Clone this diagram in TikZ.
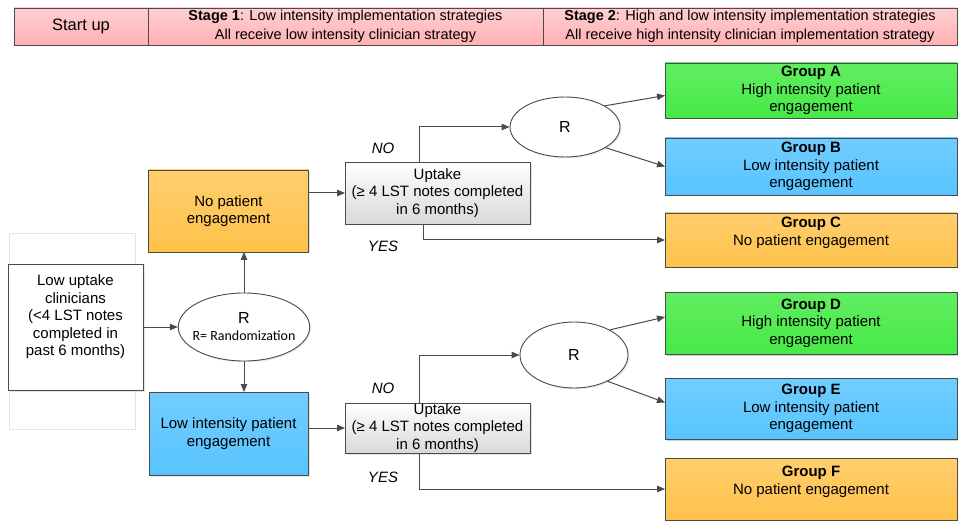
\documentclass[tikz,border=0pt]{standalone}
\usepackage{fontspec}
\setmainfont{Liberation Sans}
\newfontfamily\randfont{Carlito}
\usetikzlibrary{arrows.meta,positioning,calc,shapes.geometric,shadows}

\definecolor{hdrpink}{HTML}{FFB0B4}
\definecolor{grpgreen}{HTML}{46EA46}
\definecolor{grpblue}{HTML}{58C4FF}
\definecolor{grporange}{HTML}{FFC24A}
\definecolor{edgegray}{HTML}{4A4A4A}

\begin{document}
\begin{tikzpicture}[
  x=1pt, y=-1pt,
  node distance=20pt,
  box/.style={draw=edgegray, line width=0.9pt, align=center, inner sep=2pt, outer sep=0pt,
    font=\fontsize{15}{17.5}\selectfont,
    drop shadow={shadow xshift=1.5pt, shadow yshift=-1.5pt, opacity=0.2}},
  hdr/.style={box, top color=hdrpink!60, bottom color=hdrpink, minimum height=37pt,
    font=\fontsize{14.5}{18.5}\selectfont},
  orangebox/.style={box, top color=grporange!80, bottom color=grporange},
  bluebox/.style={box, top color=grpblue!85, bottom color=grpblue},
  greenbox/.style={box, top color=grpgreen!85, bottom color=grpgreen},
  uptakebox/.style={box, top color=white, bottom color=gray!30, minimum width=185pt},
  grp/.style={box, minimum width=292pt},
  oval/.style={ellipse, draw=edgegray, line width=0.9pt, fill=white, inner sep=0pt, align=center,
    font=\fontsize{16}{17}\selectfont,
    drop shadow={shadow xshift=1.5pt, shadow yshift=-1.5pt, opacity=0.15}},
  lbl/.style={font=\fontsize{15}{17}\selectfont\itshape},
  arr/.style={-{Triangle[length=8pt,width=6.5pt]}, draw=edgegray, line width=1pt}
]
  \useasboundingbox (0,0) rectangle (958,521);

  % stage header
  \node[hdr, minimum width=134pt, font=\fontsize{16.5}{18.5}\selectfont] (startup) at (81,26.5) {Start up};
  \node[hdr, minimum width=395pt, right=0pt of startup] (stageone)
    {\textbf{Stage 1}: Low intensity implementation strategies\\All receive low intensity clinician strategy};
  \node[hdr, minimum width=414pt, right=0pt of stageone] (stagetwo)
    {\textbf{Stage 2}: High and low intensity implementation strategies\\All receive high intensity clinician implementation strategy};

  % faint frame behind the start box
  \draw[gray!20, line width=0.6pt] (9,233) rectangle (135,429);

  % randomization of clinicians
  \node[box, fill=white, minimum width=135pt, minimum height=126pt] (lowup) at (75.5,327)
    {Low uptake\\clinicians\\(<4 LST notes\\completed in\\past 6 months)\\[6pt]};
  \node[oval, inner xsep=-5pt, minimum width=128pt, minimum height=68pt] (rand) at (244,327)
    {R\\[0pt]{\randfont\fontsize{14}{15}\selectfont R= Randomization}};
  \node[orangebox, minimum width=160pt, minimum height=82pt] (nopat) at (228.5,211)
    {No patient\\engagement};
  \node[bluebox, minimum width=159pt, minimum height=83pt] (lowpat) at (228.5,433.5)
    {Low intensity patient\\engagement};

  % uptake checks
  \node[uptakebox, minimum height=62pt] (upone) at (437.5,193)
    {Uptake\\(\char"2265\ 4 LST notes completed\\in 6 months)};
  \node[uptakebox, inner ysep=0pt, minimum height=50pt] (uptwo) at (437.5,428)
    {Uptake\\(\char"2265\ 4 LST notes completed\\in 6 months)};
  \node[oval, minimum width=110pt, minimum height=60pt] (randA) at (565,127) {R};
  \node[oval, minimum width=108pt, minimum height=66pt] (randB) at (574,355) {R};

  % stage 2 groups
  \node[greenbox, grp, minimum height=55pt] (grpA) at (811,90.5)
    {\textbf{Group A}\\High intensity patient\\engagement};
  \node[bluebox, grp, minimum height=57pt, below=20pt of grpA] (grpB)
    {\textbf{Group B}\\Low intensity patient\\engagement};
  \node[orangebox, grp, minimum height=54pt, below=18pt of grpB] (grpC)
    {\textbf{Group C}\\No patient engagement\\~};
  \node[greenbox, grp, minimum height=62pt, below=25pt of grpC] (grpD)
    {\textbf{Group D}\\High intensity patient\\engagement};
  \node[bluebox, grp, minimum height=61pt, below=24pt of grpD] (grpE)
    {\textbf{Group E}\\Low intensity patient\\engagement};
  \node[orangebox, grp, minimum height=62pt, below=19pt of grpE] (grpF)
    {\textbf{Group F}\\No patient engagement\\~};

  \node[lbl] (noone) at (383,148) {NO};
  \node[lbl] (yesone) at (383,246) {YES};
  \node[lbl] (notwo) at (383,388) {NO};
  \node[lbl] (yestwo) at (383,477) {YES};

  \draw[arr] (lowup) -- (rand);
  \draw[arr] (rand.north) -- (rand.north |- nopat.south);
  \draw[arr] (rand.south) -- (rand.south |- lowpat.north);
  \draw[arr] (nopat.east |- upone.west) -- (upone.west);
  \draw[arr] (lowpat.east |- uptwo.west) -- (uptwo.west);

  \draw[arr] ($(upone.north)+(-18.5,0)$) |- (randA.west);
  \draw[arr] ($(upone.south)+(-14.5,0)$) |- (grpC.west);
  \draw[arr] (randA.28) -- ($(grpA.west)+(0,5)$);
  \draw[arr] (randA.-27) -- (grpB.west);

  \draw[arr] ($(uptwo.north)+(-18.5,0)$) |- (randB.west);
  \draw[arr] ($(uptwo.south)+(-18.5,0)$) |- (grpF.west);
  \draw[arr] (randB.35) -- ($(grpD.west)+(0,-6)$);
  \draw[arr] (randB.-38) -- ($(grpE.west)+(0,-6)$);
\end{tikzpicture}
\end{document}
